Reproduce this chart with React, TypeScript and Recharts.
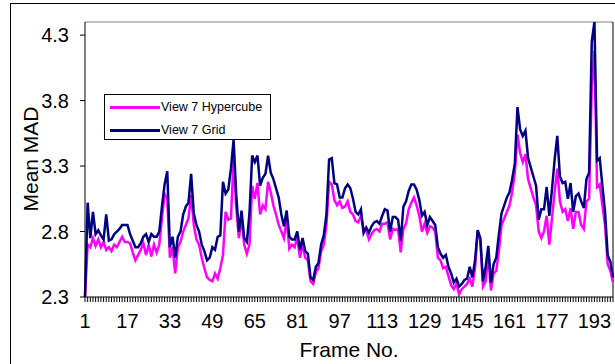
import { LineChart, Line, XAxis, YAxis, Legend, ReferenceLine } from "recharts";

const frames = Array.from({ length: 200 }, (_, i) => i + 1);

const xTickLabels = [1, 17, 33, 49, 65, 81, 97, 113, 129, 145, 161, 177, 193];
const yTicks = [2.3, 2.8, 3.3, 3.8, 4.3];

// View 7 Hypercube (magenta)
const hypercube = [
  2.30, 2.70, 2.68, 2.75, 2.69, 2.74, 2.68, 2.72, 2.66, 2.68,
  2.65, 2.70, 2.68, 2.72, 2.76, 2.72, 2.72, 2.71, 2.64, 2.58,
  2.62, 2.66, 2.71, 2.62, 2.70, 2.61, 2.70, 2.64, 2.70, 2.90,
  3.09, 3.05, 2.60, 2.68, 2.48, 2.68, 2.72, 2.80, 2.85, 2.90,
  3.08, 2.85, 2.74, 2.70, 2.60, 2.52, 2.45, 2.43, 2.42, 2.48,
  2.44, 2.52, 2.62, 2.95, 2.89, 2.90, 3.35, 2.98, 2.75, 2.90,
  2.70, 2.63, 2.70, 3.15, 3.05, 3.17, 2.93, 3.00, 2.97, 3.18,
  3.10, 3.00, 2.93, 2.85, 2.80, 2.75, 2.90, 2.67, 2.70, 2.68,
  2.76, 2.60, 2.70, 2.60, 2.58, 2.42, 2.40, 2.49, 2.52, 2.65,
  2.70, 2.85, 3.18, 3.16, 3.04, 3.00, 3.03, 2.98, 2.99, 3.03,
  2.95, 2.93, 2.88, 2.87, 2.92, 2.82, 2.81, 2.74, 2.78, 2.81,
  2.82, 2.80, 2.86, 2.86, 2.87, 2.74, 2.82, 2.81, 2.82, 2.64,
  2.82, 2.86, 2.97, 3.02, 3.06, 3.00, 2.92, 2.80, 2.86, 2.79,
  2.84, 2.83, 2.80, 2.60, 2.58, 2.52, 2.53, 2.46, 2.39, 2.36,
  2.40, 2.32, 2.36, 2.38, 2.40, 2.44, 2.38, 2.52, 2.80, 2.73,
  2.38, 2.42, 2.62, 2.35, 2.48, 2.50, 2.65, 2.85, 2.90, 2.95,
  3.00, 3.10, 3.25, 3.54, 3.40, 3.33, 3.39, 3.20, 3.13, 3.06,
  3.00, 2.80, 2.75, 2.80, 2.92, 2.70, 2.90, 3.10, 3.28, 3.03,
  2.95, 2.97, 2.88, 2.98, 2.82, 2.95, 2.95, 2.85, 2.82, 3.03,
  3.05, 3.90, 4.18, 3.14, 3.16, 3.00, 2.85, 2.55, 2.50, 2.41,
];

// View 7 Grid (navy)
const grid = [
  2.30, 3.02, 2.75, 2.95, 2.78, 2.81, 2.77, 2.74, 2.93, 2.73,
  2.74, 2.78, 2.80, 2.82, 2.85, 2.85, 2.85, 2.78, 2.73, 2.68,
  2.68, 2.71, 2.76, 2.78, 2.72, 2.78, 2.76, 2.76, 2.80, 2.99,
  3.16, 3.26, 2.68, 2.76, 2.60, 2.76, 2.80, 2.93, 2.99, 3.02,
  3.24, 2.94, 2.85, 2.80, 2.70, 2.65, 2.58, 2.60, 2.68, 2.66,
  2.76, 2.77, 3.18, 3.09, 3.12, 3.28, 3.50, 3.08, 2.80, 2.96,
  2.75, 2.72, 2.94, 3.38, 3.33, 3.38, 3.15, 3.21, 3.24, 3.38,
  3.25, 3.20, 3.13, 3.06, 2.93, 2.84, 2.96, 2.76, 2.74, 2.74,
  2.80, 2.66, 2.75, 2.65, 2.63, 2.45, 2.43, 2.53, 2.56, 2.70,
  2.77, 2.93, 3.35, 3.36, 3.17, 3.16, 3.06, 3.06, 3.13, 3.16,
  3.13, 3.05, 2.95, 2.93, 2.97, 2.79, 2.83, 2.79, 2.84, 2.87,
  2.88, 2.86, 2.92, 2.97, 2.96, 2.80, 2.91, 2.91, 2.89, 2.73,
  2.99, 3.03, 3.11, 3.16, 3.16, 3.12, 3.04, 2.92, 2.95, 2.85,
  2.91, 2.88, 2.85, 2.68, 2.63, 2.60, 2.62, 2.53, 2.48, 2.41,
  2.44, 2.38, 2.40, 2.43, 2.44, 2.53, 2.45, 2.58, 2.81, 2.75,
  2.42, 2.53, 2.69, 2.41, 2.55, 2.60, 2.78, 2.94, 3.00, 3.06,
  3.10, 3.20, 3.32, 3.75, 3.58, 3.53, 3.57, 3.36, 3.29, 3.22,
  3.15, 2.89, 2.97, 2.97, 3.14, 2.92, 3.12, 3.35, 3.53, 3.22,
  3.17, 3.18, 3.05, 3.17, 2.95, 3.07, 3.09, 3.03, 2.98, 3.20,
  3.25, 4.25, 4.40, 3.34, 3.36, 3.15, 2.95, 2.62, 2.57, 2.45,
];

const data = frames.map((f, i) => ({ frame: f, hypercube: hypercube[i], grid: grid[i] }));

const FONT = "'Liberation Sans', Arial, sans-serif";

const XTick = (props: any) => {
  const { x, y, payload } = props;
  if (!xTickLabels.includes(payload.value)) return null;
  return (
    <text x={x} y={y} dy={24} textAnchor="middle" fontSize={20} fill="#000" fontFamily={FONT}>
      {payload.value}
    </text>
  );
};

const LegendBox = () => (
  <div
    style={{
      border: "1px solid #000",
      background: "#fff",
      width: 167,
      height: 46,
      boxSizing: "border-box",
      fontFamily: FONT,
      fontSize: 12.5,
      position: "relative",
    }}
  >
    {[
      { name: "View 7 Hypercube", color: "#FF00FF", top: 4 },
      { name: "View 7 Grid", color: "#000080", top: 27 },
    ].map((item) => (
      <div key={item.name} style={{ position: "absolute", left: 5, top: item.top, display: "flex", alignItems: "center", height: 16 }}>
        <div style={{ width: 50, height: 3, background: item.color }} />
        <span style={{ marginLeft: 1, color: "#000" }}>{item.name}</span>
      </div>
    ))}
  </div>
);

export default function App() {
  return (
    <div style={{ position: "absolute", left: 0, top: 0, width: 615, height: 364, overflow: "hidden", background: "#fff", fontFamily: FONT }}>
      <div style={{ position: "absolute", left: 10, top: 3, width: 700, height: 500, border: "1px solid #000" }} />
      <LineChart width={615} height={364} data={data} margin={{ top: 22, right: 2, bottom: 7, left: 0 }}>
        <XAxis
          dataKey="frame"
          interval={0}
          tick={<XTick />}
          tickSize={5}
          tickLine={{ stroke: "#000" }}
          axisLine={{ stroke: "#000" }}
          height={60}
          label={{ value: "Frame No.", position: "insideBottom", offset: 0, fontSize: 21, fill: "#000", fontFamily: FONT }}
        />
        <YAxis
          domain={[2.3, 4.4]}
          ticks={yTicks}
          allowDataOverflow
          width={85}
          tickSize={5}
          tickMargin={11}
          tick={{ fontSize: 20, fill: "#000", fontFamily: FONT }}
          tickFormatter={(v: number) => v.toFixed(1)}
          tickLine={{ stroke: "#000" }}
          axisLine={{ stroke: "#000" }}
          label={{
            content: () => (
              <text x={30} y={159} transform="rotate(-90 30 159)" textAnchor="middle" dominantBaseline="central" fontSize={21} fill="#000" fontFamily={FONT}>
                Mean MAD
              </text>
            ),
          }}
        />
        <ReferenceLine y={4.4} stroke="#808080" strokeWidth={1} />
        <ReferenceLine x={200} stroke="#000" strokeWidth={1} />
        <Line type="linear" dataKey="hypercube" stroke="#FF00FF" strokeWidth={2.5} dot={false} isAnimationActive={false} />
        <Line type="linear" dataKey="grid" stroke="#000080" strokeWidth={2.5} dot={false} isAnimationActive={false} />
        <Legend
          layout="vertical"
          align="center"
          verticalAlign="middle"
          wrapperStyle={{ left: 104, top: 94, width: 167 }}
          content={() => <LegendBox />}
        />
      </LineChart>
    </div>
  );
}
